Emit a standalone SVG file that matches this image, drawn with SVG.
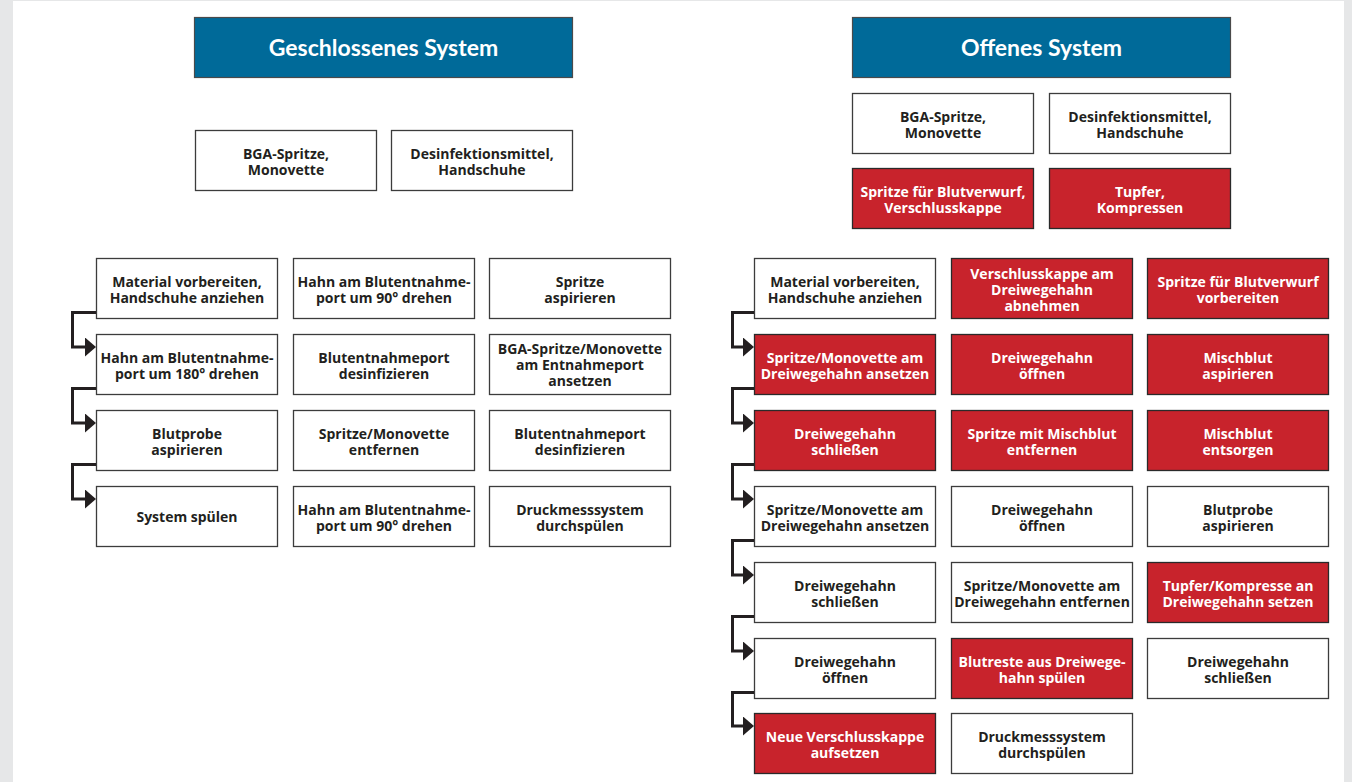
<svg xmlns="http://www.w3.org/2000/svg" width="1352" height="782" viewBox="0 0 1352 782">
<style>
.bg{fill:#e6e7e8}
.panel{fill:#ffffff}
.hd rect{fill:#006a99;stroke:#4a4a4a;stroke-width:1.2}
.hd text{fill:#ffffff;font-family:Lato,"Open Sans","Liberation Sans",sans-serif;font-weight:bold;font-size:23px;text-anchor:middle}
.w rect{fill:#ffffff;stroke:#3c3c3c;stroke-width:1.3}
.r rect{fill:#c8232c;stroke:#2a2a2a;stroke-width:1.3}
.n text{font-family:"Open Sans",Lato,"Liberation Sans",sans-serif;font-weight:bold;font-size:14px;text-anchor:middle}
.w text{fill:#231f20}
.r text{fill:#ffffff}
.c path{fill:none;stroke:#231f20;stroke-width:3;marker-end:url(#ah)}
</style>
<defs>
<marker id="ah" markerUnits="userSpaceOnUse" markerWidth="12" markerHeight="20" refX="1" refY="9.5" orient="auto">
<path d="M0,0 L11,9.5 L0,19 Z" fill="#231f20"/>
</marker>
</defs>
<rect class="bg" x="0" y="0" width="1352" height="782"/>
<rect class="panel" x="13" y="1" width="1331" height="781"/>

<g id="hdr-left" class="hd"><rect x="194.5" y="17.5" width="378" height="60"/><text x="383.5" y="56">Geschlossenes System</text></g>
<g id="hdr-right" class="hd"><rect x="852.5" y="17.5" width="378" height="60"/><text x="1041.5" y="56">Offenes System</text></g>

<g id="lm1" class="n w"><rect x="195.5" y="130.5" width="181" height="60"/><text x="286" y="158.5"><tspan x="286">BGA-Spritze,</tspan><tspan x="286" dy="16">Monovette</tspan></text></g>
<g id="lm2" class="n w"><rect x="391.5" y="130.5" width="181" height="60"/><text x="482" y="158.5"><tspan x="482">Desinfektionsmittel,</tspan><tspan x="482" dy="16">Handschuhe</tspan></text></g>

<g id="rm1" class="n w"><rect x="852.5" y="93.5" width="181" height="60"/><text x="943" y="121.5"><tspan x="943">BGA-Spritze,</tspan><tspan x="943" dy="16">Monovette</tspan></text></g>
<g id="rm2" class="n w"><rect x="1049.5" y="93.5" width="181" height="60"/><text x="1140" y="121.5"><tspan x="1140">Desinfektionsmittel,</tspan><tspan x="1140" dy="16">Handschuhe</tspan></text></g>
<g id="rm3" class="n r"><rect x="852.5" y="168.5" width="181" height="60"/><text x="943" y="196.5"><tspan x="943">Spritze für Blutverwurf,</tspan><tspan x="943" dy="16">Verschlusskappe</tspan></text></g>
<g id="rm4" class="n r"><rect x="1049.5" y="168.5" width="181" height="60"/><text x="1140" y="196.5"><tspan x="1140">Tupfer,</tspan><tspan x="1140" dy="16">Kompressen</tspan></text></g>

<!-- left grid -->
<g id="l11" class="n w"><rect x="96.5" y="258.5" width="181" height="60"/><text y="286.5"><tspan x="187">Material vorbereiten,</tspan><tspan x="187" dy="16">Handschuhe anziehen</tspan></text></g>
<g id="l21" class="n w"><rect x="96.5" y="334.5" width="181" height="60"/><text y="362.5"><tspan x="187">Hahn am Blutentnahme-</tspan><tspan x="187" dy="16">port um 180° drehen</tspan></text></g>
<g id="l31" class="n w"><rect x="96.5" y="410.5" width="181" height="60"/><text y="438.5"><tspan x="187">Blutprobe</tspan><tspan x="187" dy="16">aspirieren</tspan></text></g>
<g id="l41" class="n w"><rect x="96.5" y="486.5" width="181" height="60"/><text y="521.5"><tspan x="187">System spülen</tspan></text></g>

<g id="l12" class="n w"><rect x="293.5" y="258.5" width="181" height="60"/><text y="286.5"><tspan x="384">Hahn am Blutentnahme-</tspan><tspan x="384" dy="16">port um 90° drehen</tspan></text></g>
<g id="l22" class="n w"><rect x="293.5" y="334.5" width="181" height="60"/><text y="362.5"><tspan x="384">Blutentnahmeport</tspan><tspan x="384" dy="16">desinfizieren</tspan></text></g>
<g id="l32" class="n w"><rect x="293.5" y="410.5" width="181" height="60"/><text y="438.5"><tspan x="384">Spritze/Monovette</tspan><tspan x="384" dy="16">entfernen</tspan></text></g>
<g id="l42" class="n w"><rect x="293.5" y="486.5" width="181" height="60"/><text y="514.5"><tspan x="384">Hahn am Blutentnahme-</tspan><tspan x="384" dy="16">port um 90° drehen</tspan></text></g>

<g id="l13" class="n w"><rect x="489.5" y="258.5" width="181" height="60"/><text y="286.5"><tspan x="580">Spritze</tspan><tspan x="580" dy="16">aspirieren</tspan></text></g>
<g id="l23" class="n w"><rect x="489.5" y="334.5" width="181" height="60"/><text y="353.5"><tspan x="580">BGA-Spritze/Monovette</tspan><tspan x="580" dy="16">am Entnahmeport</tspan><tspan x="580" dy="16">ansetzen</tspan></text></g>
<g id="l33" class="n w"><rect x="489.5" y="410.5" width="181" height="60"/><text y="438.5"><tspan x="580">Blutentnahmeport</tspan><tspan x="580" dy="16">desinfizieren</tspan></text></g>
<g id="l43" class="n w"><rect x="489.5" y="486.5" width="181" height="60"/><text y="514.5"><tspan x="580">Druckmesssystem</tspan><tspan x="580" dy="16">durchspülen</tspan></text></g>

<!-- right grid col 1 -->
<g id="r11" class="n w"><rect x="754.5" y="258.5" width="181" height="60"/><text y="286.5"><tspan x="845">Material vorbereiten,</tspan><tspan x="845" dy="16">Handschuhe anziehen</tspan></text></g>
<g id="r21" class="n r"><rect x="754.5" y="334.5" width="181" height="60"/><text y="362.5"><tspan x="845">Spritze/Monovette am</tspan><tspan x="845" dy="16">Dreiwegehahn ansetzen</tspan></text></g>
<g id="r31" class="n r"><rect x="754.5" y="410.5" width="181" height="60"/><text y="438.5"><tspan x="845">Dreiwegehahn</tspan><tspan x="845" dy="16">schließen</tspan></text></g>
<g id="r41" class="n w"><rect x="754.5" y="486.5" width="181" height="60"/><text y="514.5"><tspan x="845">Spritze/Monovette am</tspan><tspan x="845" dy="16">Dreiwegehahn ansetzen</tspan></text></g>
<g id="r51" class="n w"><rect x="754.5" y="562.5" width="181" height="60"/><text y="590.5"><tspan x="845">Dreiwegehahn</tspan><tspan x="845" dy="16">schließen</tspan></text></g>
<g id="r61" class="n w"><rect x="754.5" y="638.5" width="181" height="60"/><text y="666.5"><tspan x="845">Dreiwegehahn</tspan><tspan x="845" dy="16">öffnen</tspan></text></g>
<g id="r71" class="n r"><rect x="754.5" y="713.5" width="181" height="60"/><text y="741.5"><tspan x="845">Neue Verschlusskappe</tspan><tspan x="845" dy="16">aufsetzen</tspan></text></g>

<!-- right grid col 2 -->
<g id="r12" class="n r"><rect x="951.5" y="258.5" width="181" height="60"/><text y="278.5"><tspan x="1042">Verschlusskappe am</tspan><tspan x="1042" dy="16">Dreiwegehahn</tspan><tspan x="1042" dy="16">abnehmen</tspan></text></g>
<g id="r22" class="n r"><rect x="951.5" y="334.5" width="181" height="60"/><text y="362.5"><tspan x="1042">Dreiwegehahn</tspan><tspan x="1042" dy="16">öffnen</tspan></text></g>
<g id="r32" class="n r"><rect x="951.5" y="410.5" width="181" height="60"/><text y="438.5"><tspan x="1042">Spritze mit Mischblut</tspan><tspan x="1042" dy="16">entfernen</tspan></text></g>
<g id="r42" class="n w"><rect x="951.5" y="486.5" width="181" height="60"/><text y="514.5"><tspan x="1042">Dreiwegehahn</tspan><tspan x="1042" dy="16">öffnen</tspan></text></g>
<g id="r52" class="n w"><rect x="951.5" y="562.5" width="181" height="60"/><text y="590.5"><tspan x="1042">Spritze/Monovette am</tspan><tspan x="1042" dy="16">Dreiwegehahn entfernen</tspan></text></g>
<g id="r62" class="n r"><rect x="951.5" y="638.5" width="181" height="60"/><text y="666.5"><tspan x="1042">Blutreste aus Dreiwege-</tspan><tspan x="1042" dy="16">hahn spülen</tspan></text></g>
<g id="r72" class="n w"><rect x="951.5" y="713.5" width="181" height="60"/><text y="741.5"><tspan x="1042">Druckmesssystem</tspan><tspan x="1042" dy="16">durchspülen</tspan></text></g>

<!-- right grid col 3 -->
<g id="r13" class="n r"><rect x="1147.5" y="258.5" width="181" height="60"/><text y="286.5"><tspan x="1238">Spritze für Blutverwurf</tspan><tspan x="1238" dy="16">vorbereiten</tspan></text></g>
<g id="r23" class="n r"><rect x="1147.5" y="334.5" width="181" height="60"/><text y="362.5"><tspan x="1238">Mischblut</tspan><tspan x="1238" dy="16">aspirieren</tspan></text></g>
<g id="r33" class="n r"><rect x="1147.5" y="410.5" width="181" height="60"/><text y="438.5"><tspan x="1238">Mischblut</tspan><tspan x="1238" dy="16">entsorgen</tspan></text></g>
<g id="r43" class="n w"><rect x="1147.5" y="486.5" width="181" height="60"/><text y="514.5"><tspan x="1238">Blutprobe</tspan><tspan x="1238" dy="16">aspirieren</tspan></text></g>
<g id="r53" class="n r"><rect x="1147.5" y="562.5" width="181" height="60"/><text y="590.5"><tspan x="1238">Tupfer/Kompresse an</tspan><tspan x="1238" dy="16">Dreiwegehahn setzen</tspan></text></g>
<g id="r63" class="n w"><rect x="1147.5" y="638.5" width="181" height="60"/><text y="666.5"><tspan x="1238">Dreiwegehahn</tspan><tspan x="1238" dy="16">schließen</tspan></text></g>

<g id="connectors" class="c">
<path d="M96,312.5 H72.5 V347 H86"/>
<path d="M96,388.5 H72.5 V423 H86"/>
<path d="M96,464.5 H72.5 V499 H86"/>
<path d="M754,312.5 H732.5 V347 H744"/>
<path d="M754,388.5 H732.5 V423 H744"/>
<path d="M754,464.5 H732.5 V499 H744"/>
<path d="M754,540.5 H732.5 V575 H744"/>
<path d="M754,616.5 H732.5 V651 H744"/>
<path d="M754,692.5 H732.5 V726 H744"/>
</g>
</svg>
